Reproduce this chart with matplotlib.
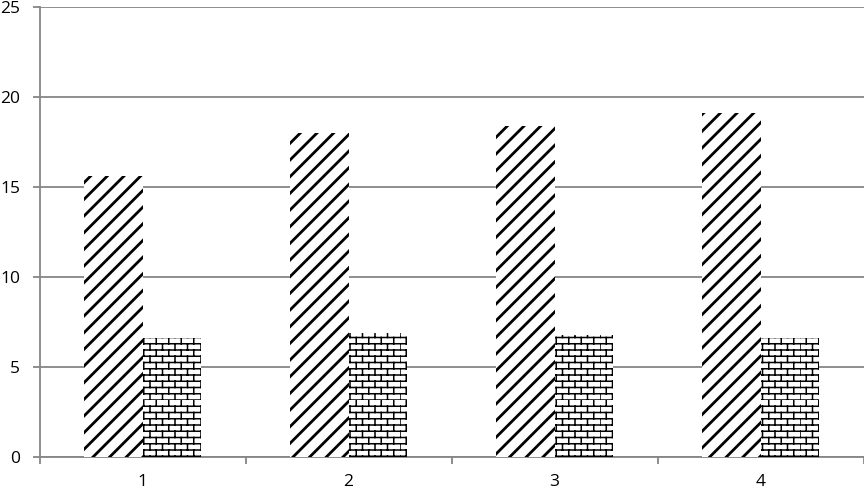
import warnings
import numpy as np
import matplotlib
matplotlib.use("Agg")
import matplotlib.pyplot as plt
import matplotlib.hatch as mhatch
from matplotlib.path import Path

warnings.filterwarnings("ignore")

categories = ["1", "2", "3", "4"]
series_a = [15.6, 18.0, 18.4, 19.1]
series_b = [6.6, 6.9, 6.8, 6.6]
y_ticks = [0, 5, 10, 15, 20, 25]


class BrickHatch(mhatch.HatchPatternBase):
    # brick wall pattern, triggered by 'b' in the hatch string
    def __init__(self, hatch, density):
        n = hatch.count('b')
        self.rows = 16 * n
        self.cols = 8 * n
        self.num_vertices = (self.rows * 2 + self.rows * self.cols * 2) if n else 0

    def set_vertices_and_codes(self, vertices, codes):
        k = 0
        for i in range(self.rows):
            y = i / self.rows
            vertices[k] = (0, y)
            vertices[k + 1] = (1, y)
            codes[k] = Path.MOVETO
            codes[k + 1] = Path.LINETO
            k += 2
        for i in range(self.rows):
            y0 = i / self.rows
            y1 = (i + 1) / self.rows
            off = 0.5 * (i % 2)
            for j in range(self.cols):
                x = (j + off) / self.cols
                vertices[k] = (x, y0)
                vertices[k + 1] = (x, y1)
                codes[k] = Path.MOVETO
                codes[k + 1] = Path.LINETO
                k += 2


mhatch._hatch_types.append(BrickHatch)

plt.rcParams['font.family'] = ['Open Sans', 'DejaVu Sans']
plt.rcParams['hatch.color'] = 'black'

fig = plt.figure(figsize=(8.64, 4.91), dpi=100)
ax = fig.add_axes([39.5 / 864, 34 / 491, 824 / 864, 450 / 491])

x = np.arange(1, len(categories) + 1)
w = 0.285

with plt.rc_context({'hatch.linewidth': 2.0}):
    bars_a = ax.bar(x - w / 2, series_a, w, color='white', hatch='//', linewidth=0, zorder=3)
with plt.rc_context({'hatch.linewidth': 1.1}):
    bars_b = ax.bar(x + w / 2, series_b, w, color='white', hatch='b', linewidth=0, zorder=3)
for b in bars_a:
    if hasattr(b, 'set_hatch_linewidth'):
        b.set_hatch_linewidth(2.0)
for b in bars_b:
    if hasattr(b, 'set_hatch_linewidth'):
        b.set_hatch_linewidth(1.1)

ax.set_xlim(0.5, len(categories) + 0.5)
ax.set_ylim(0, 25)
ax.set_yticks(y_ticks)
ax.yaxis.grid(True, color='#868686', linewidth=1.3, zorder=0)
ax.set_axisbelow(True)

ax.set_xticks(x)
ax.set_xticklabels(categories)
ax.set_xticks(np.arange(0.5, len(categories) + 1, 1), minor=True)
ax.tick_params(axis='x', which='major', length=0, pad=12, labelsize=12.5)
ax.tick_params(axis='x', which='minor', length=5, color='#868686', width=1.3)
ax.tick_params(axis='y', length=5, color='#868686', width=1.3, pad=9, labelsize=12.5)

for s in ['top', 'right']:
    ax.spines[s].set_visible(False)
for s in ['left', 'bottom']:
    ax.spines[s].set_color('#868686')
    ax.spines[s].set_linewidth(1.3)

fig.savefig('out.png', dpi=100)
